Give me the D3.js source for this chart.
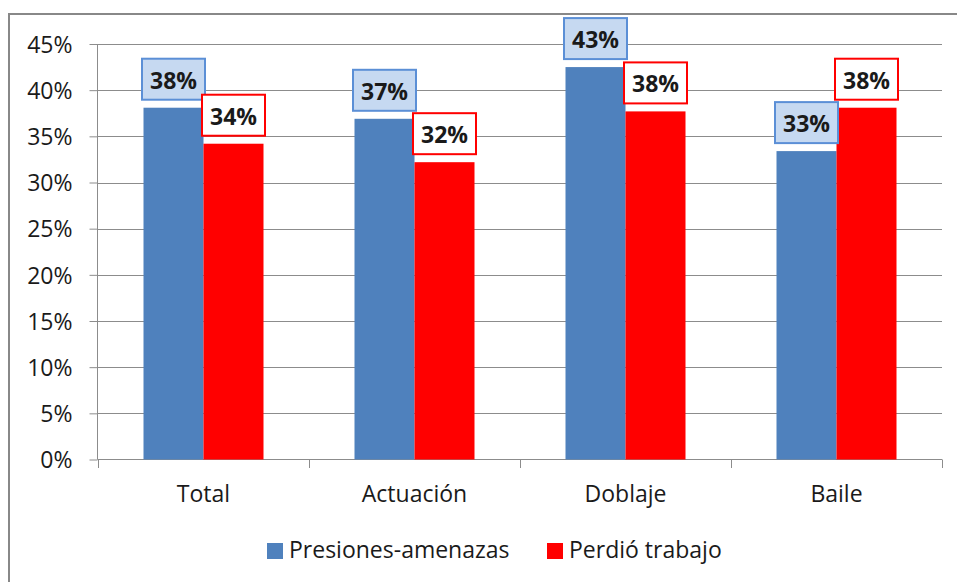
<!DOCTYPE html>
<html>
<head>
<meta charset="utf-8">
<style>
  body { margin: 0; background: #fff; }
  svg text { font-family: "Open Sans", Lato, sans-serif; fill: #1a1a1a; }
</style>
</head>
<body>
<script src="https://cdn.jsdelivr.net/npm/d3@7"></script>
<script>
var categories = ["Total", "Actuación", "Doblaje", "Baile"];
var seriesNames = ["Presiones-amenazas", "Perdió trabajo"];
var presiones = [0.381, 0.369, 0.425, 0.334];
var perdio = [0.342, 0.322, 0.377, 0.381];
var yTicks = [0, 0.05, 0.10, 0.15, 0.20, 0.25, 0.30, 0.35, 0.40, 0.45];
var colors = ["#4f81bd", "#ff0000"];
var labelFill = ["#c6d9f1", "#ffffff"];
var labelStroke = ["#5b8fd6", "#ff0000"];

var W = 957, H = 582;
var fs = "23px";
var svg = d3.select("body").append("svg").attr("width", W).attr("height", H);

// outer frame (left and top edges visible)
svg.append("path")
  .attr("d", "M9,582 L9,14 L957,14")
  .attr("fill", "none").attr("stroke", "#888").attr("stroke-width", 2);

var x0 = d3.scaleBand().domain(categories).range([98, 942]);
var x1 = d3.scaleBand().domain(seriesNames).range([45.5, 165.5]);
var y = d3.scaleLinear().domain([0, 0.45]).range([459.5, 44]);

// gridlines
svg.append("g").selectAll("line").data(yTicks.slice(1)).enter().append("line")
  .attr("x1", 98).attr("x2", 942)
  .attr("y1", function(d){ return Math.round(y(d)) + 0.5; })
  .attr("y2", function(d){ return Math.round(y(d)) + 0.5; })
  .attr("stroke", "#8c8c8c").attr("stroke-width", 1);

var yAxis = svg.append("g").attr("transform", "translate(97.5,0)")
  .call(d3.axisLeft(y).tickValues(yTicks).tickSize(8).tickPadding(17)
    .tickFormat(function(d){ return Math.round(d * 100) + "%"; }));
yAxis.selectAll("line").attr("stroke", "#8c8c8c");
yAxis.select(".domain").attr("stroke", "#8c8c8c").attr("d", "M0," + y(0.45) + "V" + y(0));
yAxis.selectAll("text").style("font-size", fs).attr("dy", "0.36em");

// x axis
var xAxisG = svg.append("g");
xAxisG.append("line").attr("x1", 97.5).attr("x2", 942).attr("y1", 459.5).attr("y2", 459.5)
  .attr("stroke", "#8c8c8c");
var bounds = categories.map(function(c){ return x0(c); }).concat([942]);
xAxisG.selectAll("line.tk").data(bounds).enter().append("line").attr("class", "tk")
  .attr("x1", function(d){ return Math.round(d) + 0.5; })
  .attr("x2", function(d){ return Math.round(d) + 0.5; })
  .attr("y1", 459.5).attr("y2", 468).attr("stroke", "#8c8c8c");
xAxisG.selectAll("text").data(categories).enter().append("text")
  .attr("x", function(d){ return x0(d) + x0.bandwidth() / 2; })
  .attr("y", 502).attr("text-anchor", "middle").style("font-size", fs)
  .text(function(d){ return d; });

var allSeries = [presiones, perdio];

allSeries.forEach(function(vals, si) {
  var g = svg.append("g");
  g.selectAll("rect").data(vals).enter().append("rect")
    .attr("x", function(d, i){ return x0(categories[i]) + x1(seriesNames[si]); })
    .attr("width", x1.bandwidth())
    .attr("y", function(d){ return y(d); })
    .attr("height", function(d){ return y(0) - y(d); })
    .attr("fill", colors[si]);
});

allSeries.forEach(function(vals, si) {
  var lg = svg.append("g").selectAll("g").data(vals).enter().append("g")
    .attr("transform", function(d, i){
      var cx = x0(categories[i]) + x1(seriesNames[si]) + x1.bandwidth() / 2;
      return "translate(" + cx + "," + (y(d) - 8) + ")";
    });
  lg.append("rect").attr("x", -31.5).attr("y", -41).attr("width", 63).attr("height", 41)
    .attr("fill", labelFill[si]).attr("stroke", labelStroke[si]).attr("stroke-width", 2);
  lg.append("text").attr("x", 0).attr("y", -11).attr("text-anchor", "middle")
    .style("font-size", fs).style("font-weight", "bold")
    .text(function(d){ return Math.round(d * 100) + "%"; });
});

// legend
var legendItems = [{ x: 267, name: seriesNames[0] }, { x: 547, name: seriesNames[1] }];
var lgd = svg.append("g").selectAll("g").data(legendItems).enter().append("g")
  .attr("transform", function(d){ return "translate(" + d.x + ",543)"; });
lgd.append("rect").attr("width", 16).attr("height", 16)
  .attr("fill", function(d, i){ return colors[i]; });
lgd.append("text").attr("x", 22).attr("y", 15).style("font-size", fs)
  .text(function(d){ return d.name; });
</script>
</body>
</html>
